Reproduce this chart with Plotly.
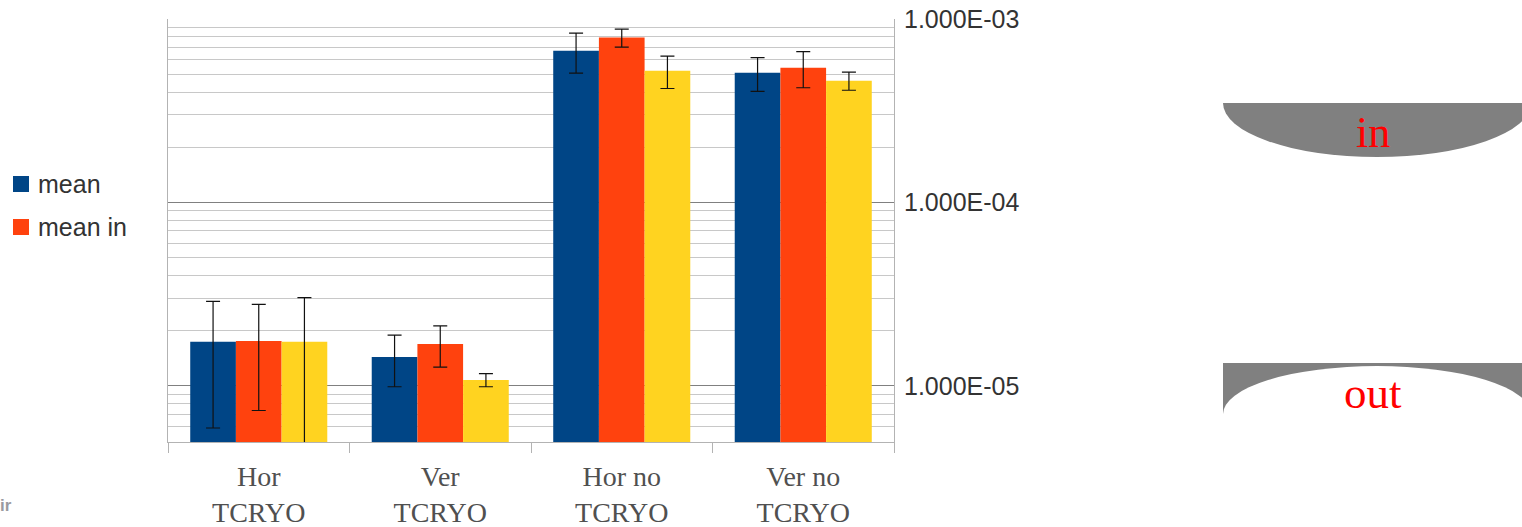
import plotly.graph_objects as go

# ---- data -------------------------------------------------------------
categories = ["Hor<br>TCRYO", "Ver<br>TCRYO", "Hor no<br>TCRYO", "Ver no<br>TCRYO"]

mean_vals = [1.74e-5, 1.44e-5, 6.72e-4, 5.10e-4]
mean_err = [1.15e-5, 4.5e-6, 1.65e-4, 1.065e-4]

mean_in_vals = [1.76e-5, 1.695e-5, 7.92e-4, 5.43e-4]
mean_in_err = [1.025e-5, 4.3e-6, 8.9e-5, 1.21e-4]

mean_out_vals = [1.74e-5, 1.078e-5, 5.23e-4, 4.61e-4]
mean_out_err = [1.29e-5, 8.8e-7, 1.05e-4, 5.2e-5]

major_ticks = [1e-5, 1e-4, 1e-3]
major_labels = ["1.000E-05", "1.000E-04", "1.000E-03"]
minor_ticks = [m * 10.0 ** e for e in (-6, -5, -4) for m in range(2, 10)]

series_names = ["mean", "mean in", "mean out"]
series_colors = ["#004586", "#ff420e", "#ffd320"]
legend_names = ["mean", "mean in"]

# ---- page geometry (pixels) ------------------------------------------
W, H = 1522, 527
L, R, T, B = 168, 894, 19, 442


def px(x):
    return (x - L) / (R - L)


def py(y):
    return (B - y) / (B - T)


fig = go.Figure()

for name, vals, errs, col in zip(series_names,
                                 [mean_vals, mean_in_vals, mean_out_vals],
                                 [mean_err, mean_in_err, mean_out_err],
                                 series_colors):
    fig.add_trace(go.Bar(
        x=categories, y=vals, name=name, showlegend=False,
        marker=dict(color=col, line=dict(width=0)),
        error_y=dict(type="data", array=errs, visible=True,
                     color="#111111", thickness=1.2, width=7),
    ))

grid_major = "#808080"
grid_minor = "#c8c8c8"
axis_line = "#b3b3b3"

fig.update_layout(
    template="none",
    width=W, height=H,
    margin=dict(l=L, r=W - R, t=T, b=H - B, pad=0),
    paper_bgcolor="white", plot_bgcolor="white",
    barmode="group", bargap=0.245, bargroupgap=0,
    showlegend=False,
    font=dict(family="Liberation Sans, Arial, sans-serif", color="#333333"),
    xaxis=dict(
        type="category", automargin=False,
        showgrid=False, zeroline=False,
        showline=True, linecolor=axis_line, linewidth=1,
        ticks="outside", tickson="boundaries", ticklen=10,
        tickcolor=axis_line, tickwidth=1, ticklabelstandoff=9,
        tickfont=dict(family="Liberation Serif, Times New Roman, serif",
                      size=28, color="#505050"),
    ),
    yaxis=dict(
        type="log", side="right", automargin=False,
        range=[-5.3055, -3.0],
        tickvals=major_ticks, ticktext=major_labels,
        ticks="", ticklabelstandoff=4,
        tickfont=dict(size=25, color="#333333"),
        showgrid=True, gridcolor=grid_major, gridwidth=1,
        showline=True, linecolor=axis_line, linewidth=1, mirror=True,
        zeroline=False,
        minor=dict(tickvals=minor_ticks, showgrid=True,
                   gridcolor=grid_minor, gridwidth=1, ticks=""),
    ),
)

# ---- legend on the left (square swatch + label) ----------------------
shapes = []
for i, (name, col) in enumerate(zip(legend_names, series_colors)):
    yc = 184 + 43 * i
    shapes.append(dict(type="rect", xref="paper", yref="paper",
                       x0=px(13), x1=px(29), y0=py(yc + 8), y1=py(yc - 8),
                       fillcolor=col, line=dict(width=0)))
    fig.add_annotation(text=name, xref="paper", yref="paper",
                       x=px(36), y=py(yc), xanchor="left", yanchor="middle",
                       showarrow=False,
                       font=dict(size=25, color="#333333"))

# ---- "in" / "out" sketches on the right -----------------------------
gray = "#808080"
cx, rx = 1377, 154
shapes += [
    # "in": lower half of a filled ellipse
    dict(type="circle", xref="paper", yref="paper",
         x0=px(cx - rx), x1=px(cx + rx), y0=py(103 - 54), y1=py(103 + 54),
         fillcolor=gray, line=dict(width=0), layer="above"),
    dict(type="rect", xref="paper", yref="paper",
         x0=px(cx - rx - 2), x1=px(W + 20), y0=py(40), y1=py(103),
         fillcolor="white", line=dict(width=0), layer="above"),
    # "out": bar with an elliptical cut-out from below
    dict(type="rect", xref="paper", yref="paper",
         x0=px(cx - rx), x1=px(W + 20), y0=py(363), y1=py(414),
         fillcolor=gray, line=dict(width=0), layer="above"),
    dict(type="circle", xref="paper", yref="paper",
         x0=px(cx - rx), x1=px(cx + rx), y0=py(414 - 48), y1=py(414 + 48),
         fillcolor="white", line=dict(width=0), layer="above"),
]
fig.update_layout(shapes=shapes)

serif = "Liberation Serif, Times New Roman, serif"
fig.add_annotation(text="in", xref="paper", yref="paper",
                   x=px(1373), y=py(133), xanchor="center", yanchor="middle",
                   showarrow=False, font=dict(family=serif, size=44, color="#ff0000"))
fig.add_annotation(text="out", xref="paper", yref="paper",
                   x=px(1373), y=py(393), xanchor="center", yanchor="middle",
                   showarrow=False, font=dict(family=serif, size=45, color="#ff0000"))
fig.add_annotation(text="<b>ir</b>", xref="paper", yref="paper",
                   x=px(14), y=py(505), xanchor="right", yanchor="middle",
                   showarrow=False,
                   font=dict(family="Liberation Sans, Arial, sans-serif",
                             size=17, color="#9a9aa0"))

fig.write_html("out.html")
